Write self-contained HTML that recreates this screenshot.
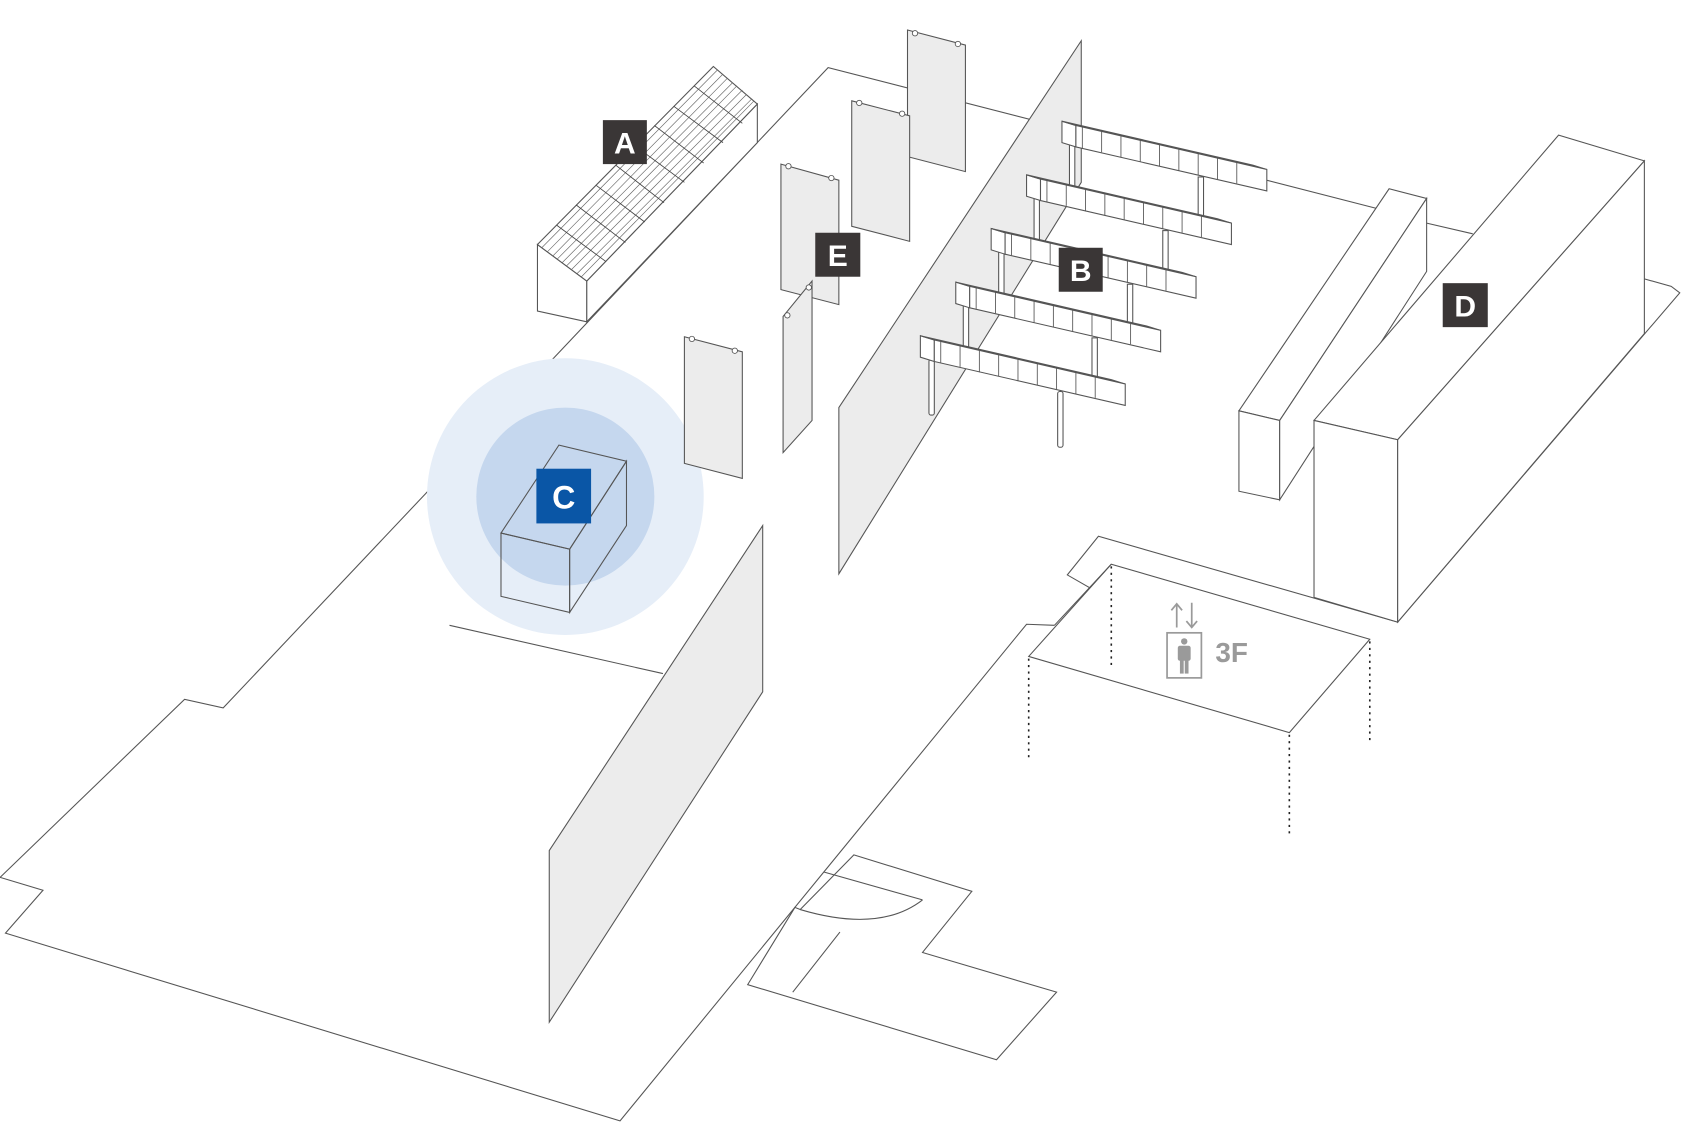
<!DOCTYPE html>
<html><head><meta charset="utf-8"><style>
html,body{margin:0;padding:0;background:#fff;}
svg{display:block;}
text{font-family:"Liberation Sans",sans-serif;font-weight:bold;}
</style></head><body>
<svg width="1682" height="1123" viewBox="0 0 1568 1047" xmlns="http://www.w3.org/2000/svg">
<g fill="none" stroke="#555" stroke-width="1">
<!-- floor outline -->
<polyline points="1290,196 772,63 208,660 172,652 0,818 40,830 5,870 578,1045 768,813 957,582 983,583"/>
<polyline points="1330,208 1373,218"/>
<polyline points="1533,260 1558,267 1566,273 1303,580"/>
<!-- elevator area -->
<polyline points="983,583 1036,526"/>
<polyline points="1036,526 1016,548 995,536 1024,500 1303,580"/>
<polygon points="959,612 1036,526 1277,596 1202,683"/>
<g stroke="#222" stroke-dasharray="2,4" stroke-width="1.5">
<line x1="1036" y1="528" x2="1036" y2="622"/>
<line x1="959" y1="614" x2="959" y2="707"/>
<line x1="1202" y1="685" x2="1202" y2="778"/>
<line x1="1277" y1="598" x2="1277" y2="693"/>
</g>
<!-- door area -->
<polygon points="796,797 906,831 860,888 985,925 929,988 697,918 741,846 746,848"/>
<line x1="768" y1="813" x2="860" y2="839"/>
<path d="M860,839 Q820,870 746,848"/>
<line x1="783" y1="869" x2="739" y2="925"/>
<line x1="419" y1="583" x2="618" y2="628"/>
</g>

<!-- C circles -->
<circle cx="527" cy="463" r="129" fill="#e6eef8"/>
<circle cx="527" cy="463" r="83" fill="#c5d7ee"/>
<g fill="none" stroke="#555" stroke-width="1">
<polygon points="467,497 521,415 584,430 531,512"/>
<polygon points="467,497 531,512 531,571 467,556"/>
<polygon points="531,512 584,430 584,490 531,571"/>
</g>
<rect x="500" y="437" width="51" height="51" fill="#0a56a6"/>
<text x="525.5" y="474" font-size="30" fill="#fff" text-anchor="middle">C</text>

<!-- A building -->
<g stroke="#555" stroke-width="1" fill="#fff">
<polygon points="501,228 547,262 547,300 501,290"/>
<polygon points="547,262 706,97 706,133 547,300"/>
<polygon points="501,228 665,62 706,97 547,262"/>
</g>
<g stroke="#666" stroke-width="0.6" fill="none" id="hatch">
<line x1="505" y1="231" x2="669" y2="65"/><line x1="510" y1="235" x2="674" y2="69"/>
<line x1="515" y1="239" x2="678" y2="73"/><line x1="519" y1="242" x2="683" y2="77"/>
<line x1="524" y1="245" x2="687" y2="80"/><line x1="528" y1="248" x2="692" y2="84"/>
<line x1="533" y1="251" x2="696" y2="88"/><line x1="538" y1="255" x2="701" y2="92"/>
<line x1="542" y1="258" x2="703" y2="94"/>
</g>
<g stroke="#444" stroke-width="0.8" fill="none">
<line x1="519" y1="210" x2="565" y2="244"/><line x1="537" y1="191" x2="583" y2="226"/>
<line x1="556" y1="173" x2="601" y2="207"/><line x1="574" y1="154" x2="619" y2="189"/>
<line x1="592" y1="136" x2="638" y2="170"/><line x1="610" y1="117" x2="656" y2="152"/>
<line x1="628" y1="99" x2="674" y2="133"/><line x1="647" y1="80" x2="692" y2="115"/>
</g>
<rect x="562" y="112" width="41" height="41" fill="#3a3636"/>
<text x="582.5" y="143" font-size="28" fill="#fff" text-anchor="middle">A</text>

<!-- hanging panels -->
<g fill="#ececec" stroke="#555" stroke-width="1">
<polygon points="846,28 900,42 900,160 846,146"/>
<polygon points="794,94 848,108 848,225 794,211"/>
<polygon points="728,153 782,168 782,284 728,270"/>
<polygon points="730,295 757,262 757,392 730,422"/>
<polygon points="638,314 692,328 692,446 638,432"/>
</g>
<g fill="#fff" stroke="#555" stroke-width="0.8">
<circle cx="853" cy="31" r="2.5"/><circle cx="893" cy="41" r="2.5"/>
<circle cx="801" cy="96" r="2.5"/><circle cx="841" cy="106" r="2.5"/>
<circle cx="735" cy="155" r="2.5"/><circle cx="775" cy="166" r="2.5"/>
<circle cx="645" cy="316" r="2.5"/><circle cx="685" cy="327" r="2.5"/>
<circle cx="734" cy="294" r="2.5"/><circle cx="754" cy="268" r="2.5"/>
</g>
<rect x="760" y="217" width="42" height="41" fill="#3a3636"/>
<text x="781" y="248" font-size="28" fill="#fff" text-anchor="middle">E</text>

<!-- partitions -->
<g fill="#ececec" stroke="#555" stroke-width="1">
<polygon points="782,380 1008,38 1008,170 782,535"/>
<polygon points="512,793 711,490 711,645 512,953"/>
</g>

<!-- B rails -->
<g stroke="#555" stroke-width="1">
<!-- k=0 -->
<rect x="997" y="135" width="5" height="50" fill="#fff"/><rect x="1117" y="165" width="5" height="50" fill="#fff"/>
<polygon points="990,113 1003,117 1003,137 990,133" fill="#fff"/>
<polygon points="990,113 1168,154 1181,158 1003,117" fill="#fff"/>
<polygon points="1003,117 1181,158 1181,178 1003,137" fill="#fff"/>
<!-- k=1 -->
<rect x="964" y="185" width="5" height="50" fill="#fff"/><rect x="1084" y="215" width="5" height="50" fill="#fff"/>
<polygon points="957,163 970,167 970,187 957,183" fill="#fff"/>
<polygon points="957,163 1135,204 1148,208 970,167" fill="#fff"/>
<polygon points="970,167 1148,208 1148,228 970,187" fill="#fff"/>
<!-- k=2 -->
<rect x="931" y="235" width="5" height="50" fill="#fff"/><rect x="1051" y="265" width="5" height="50" fill="#fff"/>
<polygon points="924,213 937,217 937,237 924,233" fill="#fff"/>
<polygon points="924,213 1102,254 1115,258 937,217" fill="#fff"/>
<polygon points="937,217 1115,258 1115,278 937,237" fill="#fff"/>
<!-- k=3 -->
<rect x="898" y="285" width="5" height="50" fill="#fff"/><rect x="1018" y="315" width="5" height="50" fill="#fff"/>
<polygon points="891,263 904,267 904,287 891,283" fill="#fff"/>
<polygon points="891,263 1069,304 1082,308 904,267" fill="#fff"/>
<polygon points="904,267 1082,308 1082,328 904,287" fill="#fff"/>
<!-- k=4 -->
<rect x="866" y="335" width="5" height="52" rx="2" fill="#fff"/><rect x="986" y="365" width="5" height="52" rx="2" fill="#fff"/>
<polygon points="858,313 871,317 871,337 858,333" fill="#fff"/>
<polygon points="858,313 1036,354 1049,358 871,317" fill="#fff"/>
<polygon points="871,317 1049,358 1049,378 871,337" fill="#fff"/>
</g>
<g stroke="#555" stroke-width="0.8">
<!-- cell dividers: along front face, x offsets -->
<path d="M1009,118v20M1027,122v20M1045,127v20M1063,131v20M1081,135v20M1099,139v20M1117,143v20M1135,147v20M1153,151v20
M976,168v20M994,172v20M1012,177v20M1030,181v20M1048,185v20M1066,189v20M1084,193v20M1102,197v20M1120,201v20
M943,218v20M961,222v20M979,227v20M997,231v20M1015,235v20M1033,239v20M1051,243v20M1069,247v20M1087,251v20
M910,268v20M928,272v20M946,277v20M964,281v20M982,285v20M1000,289v20M1018,293v20M1036,297v20M1054,301v20
M877,318v20M895,322v20M913,327v20M931,331v20M949,335v20M967,339v20M985,343v20M1003,347v20M1021,351v20"/>
</g>
<rect x="987" y="231" width="41" height="41" fill="#3a3636"/>
<text x="1007.5" y="262" font-size="28" fill="#fff" text-anchor="middle">B</text>

<!-- D blocks -->
<g stroke="#555" stroke-width="1" fill="#fff">
<polygon points="1155,383 1295,176 1330,185 1193,392"/>
<polygon points="1155,383 1193,392 1193,466 1155,458"/>
<polygon points="1193,392 1330,185 1330,253 1193,466"/>
<polygon points="1225,392 1453,126 1533,150 1303,410"/>
<polygon points="1225,392 1303,410 1303,580 1225,557"/>
<polygon points="1303,410 1533,150 1533,311 1303,580"/>
</g>
<rect x="1345" y="264" width="42" height="41" fill="#3a3636"/>
<text x="1366" y="295" font-size="28" fill="#fff" text-anchor="middle">D</text>

<!-- elevator icon -->
<g stroke="#9a9a9a" stroke-width="1.6" fill="none">
<rect x="1088" y="590" width="32" height="42"/>
<path d="M1097,585 V563 M1092,569 L1097,563 L1102,569"/>
<path d="M1111,562 V585 M1106,579 L1111,585 L1116,579"/>
</g>
<g fill="#9a9a9a">
<circle cx="1104" cy="598" r="3"/>
<rect x="1098" y="602" width="12" height="14" rx="2"/>
<rect x="1100" y="614" width="3.5" height="14"/><rect x="1104.5" y="614" width="3.5" height="14"/>
</g>
<text x="1133" y="617" font-size="26" fill="#9a9a9a">3F</text>
</svg>
</body></html>
